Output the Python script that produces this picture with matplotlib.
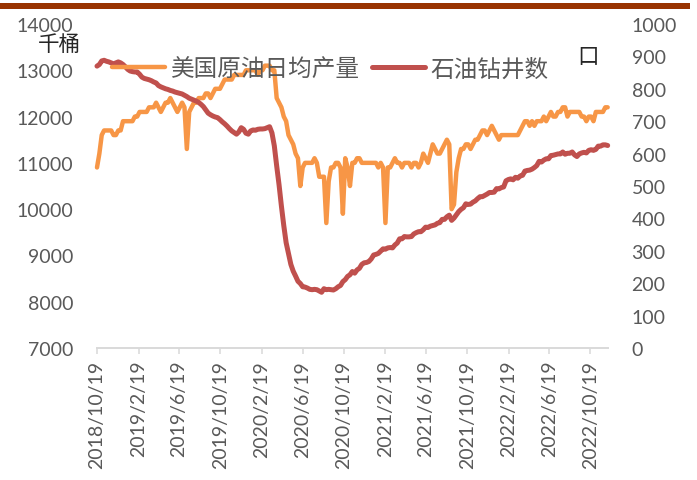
"""
US crude oil output vs. oil rig count (weekly), dual axis chart.
"""

import pandas as pd
import matplotlib
matplotlib.use("Agg")
import matplotlib.pyplot as plt
from matplotlib.patches import Rectangle
from matplotlib.font_manager import FontProperties


# -----------------------------
# Data (weekly)
# -----------------------------
start_date = "2018-10-19"

# 美国原油日均产量, thousand barrels/day
production = [
    10900, 11200, 11600, 11700, 11700, 11700, 11700, 11600, 11600, 11700,
    11700, 11900, 11900, 11900, 11900, 11900, 12000, 12000, 12100, 12100,
    12100, 12100, 12200, 12200, 12200, 12300, 12200, 12100, 12200, 12300,
    12300, 12400, 12300, 12200, 12100, 12200, 12300, 12200, 11300, 12100,
    12200, 12300, 12300, 12400, 12400, 12400, 12500, 12500, 12400, 12500,
    12600, 12600, 12600, 12700, 12800, 12800, 12800, 12800, 12900, 12900,
    12900, 12900, 12900, 13000, 13000, 13000, 13000, 13000, 12900, 13000,
    13000, 13100, 13100, 13100, 13000, 13000, 12400, 12300, 12200, 12000,
    11900, 11600, 11500, 11400, 11200, 11100, 10500, 10900, 11000, 11000,
    11000, 11000, 11100, 11000, 10700, 10700, 10700, 9700, 10600, 10900,
    10900, 11000, 11000, 10900, 9900, 11100, 10900, 10500, 11000, 11000,
    11100, 11100, 11000, 11000, 11000, 11000, 11000, 11000, 11000, 10900,
    11000, 10900, 9700, 10900, 10900, 11000, 11100, 11000, 11000, 10900,
    11000, 11000, 11000, 10900, 11000, 11000, 10900, 11000, 11200, 11100,
    11000, 11200, 11400, 11300, 11200, 11200, 11300, 11400, 11500, 11400,
    10000, 10100, 10800, 11100, 11300, 11300, 11400, 11400, 11300, 11400,
    11500, 11500, 11600, 11700, 11700, 11600, 11700, 11800, 11700, 11600,
    11500, 11600, 11600, 11600, 11600, 11600, 11600, 11600, 11600, 11700,
    11800, 11900, 11900, 11800, 11900, 11800, 11900, 11900, 11900, 12000,
    11900, 12000, 12100, 12000, 12000, 12100, 12100, 12200, 12200, 12000,
    12100, 12100, 12100, 12100, 12100, 12000, 12000, 11900, 12000, 12000,
    11900, 12100, 12100, 12100, 12100, 12200, 12200,
]

# 石油钻井数, rigs
rigs = [
    870, 875, 886, 888, 885, 883, 880, 877, 880, 883,
    880, 875, 868, 860, 855, 853, 852, 852, 845, 836,
    832, 830, 828, 825, 821, 818, 810, 806, 803, 800,
    798, 795, 793, 790, 788, 786, 784, 780, 776, 771,
    768, 765, 762, 758, 752, 745, 735, 725, 720, 716,
    713, 711, 705, 698, 692, 685, 677, 670, 665, 660,
    667, 680, 675, 663, 660, 670, 673, 672, 675, 676,
    676, 677, 680, 683, 664, 624, 562, 504, 438, 378,
    325, 292, 258, 237, 222, 206, 199, 189, 188, 185,
    181, 180, 181, 180, 176, 172, 183, 180, 181, 180,
    179, 183, 189, 193, 205, 211, 221, 226, 236, 231,
    241, 246, 258, 263, 264, 267, 275, 287, 289, 292,
    299, 306, 305, 309, 310, 309, 318, 324, 337, 337,
    344, 343, 343, 344, 352, 356, 359, 359, 365, 373,
    372, 376, 378, 380, 385, 387, 397, 397, 405, 410,
    394, 401, 411, 421, 428, 433, 445, 443, 444, 450,
    454, 461, 467, 467, 471, 475, 480, 480, 481, 492,
    491, 495, 497, 516, 520, 522, 519, 527, 524, 531,
    533, 546, 548, 549, 552, 557, 563, 576, 574, 580,
    584, 584, 594, 595, 597, 599, 599, 605, 598, 601,
    601, 605, 596, 591, 599, 602, 604, 602, 610, 612,
    610, 613, 623, 623, 627, 627, 625,
]

tick_dates = [
    "2018-10-19", "2019-02-19", "2019-06-19", "2019-10-19", "2020-02-19",
    "2020-06-19", "2020-10-19", "2021-02-19", "2021-06-19", "2021-10-19",
    "2022-02-19", "2022-06-19", "2022-10-19",
]
tick_labels = [
    "2018/10/19", "2019/2/19", "2019/6/19", "2019/10/19", "2020/2/19",
    "2020/6/19", "2020/10/19", "2021/2/19", "2021/6/19", "2021/10/19",
    "2022/2/19", "2022/6/19", "2022/10/19",
]

series_names = ["美国原油日均产量", "石油钻井数"]
left_unit = "千桶"
right_unit = "口"

ORANGE = "#F79646"
RED = "#C0504D"
GREY_TXT = "#595959"
AXIS_GREY = "#D9D9D9"
CJK = ["Noto Sans CJK SC", "DejaVu Sans"]
NUM_FONT = ["Lato", "DejaVu Sans"]


# -----------------------------
# Chart
# -----------------------------
def main():
    W, H = 697, 481
    dates = pd.date_range(start_date, periods=len(production), freq="7D")

    fig = plt.figure(figsize=(W / 100, H / 100), dpi=100)
    ax1 = fig.add_axes([97 / W, 1 - 349 / H, (608 - 97) / W, (349 - 25) / H])
    ax2 = ax1.twinx()

    l1, = ax1.plot(dates, production, color=ORANGE, lw=3.2,
                   solid_joinstyle="round", solid_capstyle="round",
                   clip_on=False, label=series_names[0])
    l2, = ax2.plot(dates, rigs, color=RED, lw=3.6,
                   solid_joinstyle="round", solid_capstyle="round",
                   clip_on=False, label=series_names[1])

    ax1.set_xlim(pd.Timestamp(start_date), pd.Timestamp("2022-12-10"))
    ax1.set_ylim(7000, 14000)
    ax1.set_yticks(range(7000, 14001, 1000))
    ax2.set_ylim(0, 1000)
    ax2.set_yticks(range(0, 1001, 100))

    ax1.set_xticks(pd.to_datetime(tick_dates))
    ax1.set_xticklabels(tick_labels, rotation=90, family=NUM_FONT)

    for ax in (ax1, ax2):
        for side in ("top", "left", "right"):
            ax.spines[side].set_visible(False)
    ax2.spines["bottom"].set_visible(False)
    ax1.spines["bottom"].set_color(AXIS_GREY)
    ax1.spines["bottom"].set_linewidth(1.4)

    ax1.tick_params(axis="x", direction="out", length=4.5, width=1.1,
                    color=AXIS_GREY, labelcolor=GREY_TXT, labelsize=14, pad=4)
    ax1.tick_params(axis="y", length=0, pad=17, labelcolor=GREY_TXT, labelsize=14)
    ax2.tick_params(axis="y", length=0, pad=17, labelcolor=GREY_TXT, labelsize=14)
    for lab in ax1.get_yticklabels() + ax2.get_yticklabels():
        lab.set_family(NUM_FONT)

    # units
    fig.text(38 / W, 1 - 45 / H, left_unit, family=CJK, fontsize=15.5,
             color="#262626", ha="left", va="center")
    fig.text(577 / W, 1 - 57 / H, right_unit, family=CJK, fontsize=15.5,
             color="#262626", ha="left", va="center")

    # legend
    fig.legend([l1, l2], series_names, loc="center left",
               bbox_to_anchor=(112 / W, 1 - 70 / H), ncol=2, frameon=False,
               prop=FontProperties(family=CJK, size=17), labelcolor=GREY_TXT,
               handlelength=2.25, handletextpad=0.25, columnspacing=0.5,
               borderpad=0, borderaxespad=0)

    # header band
    fig.add_artist(Rectangle((0, 1 - 10 / H), 690 / W, 6 / H,
                             transform=fig.transFigure, color="#993300", lw=0))

    fig.savefig("out.png", dpi=100)


if __name__ == "__main__":
    main()
